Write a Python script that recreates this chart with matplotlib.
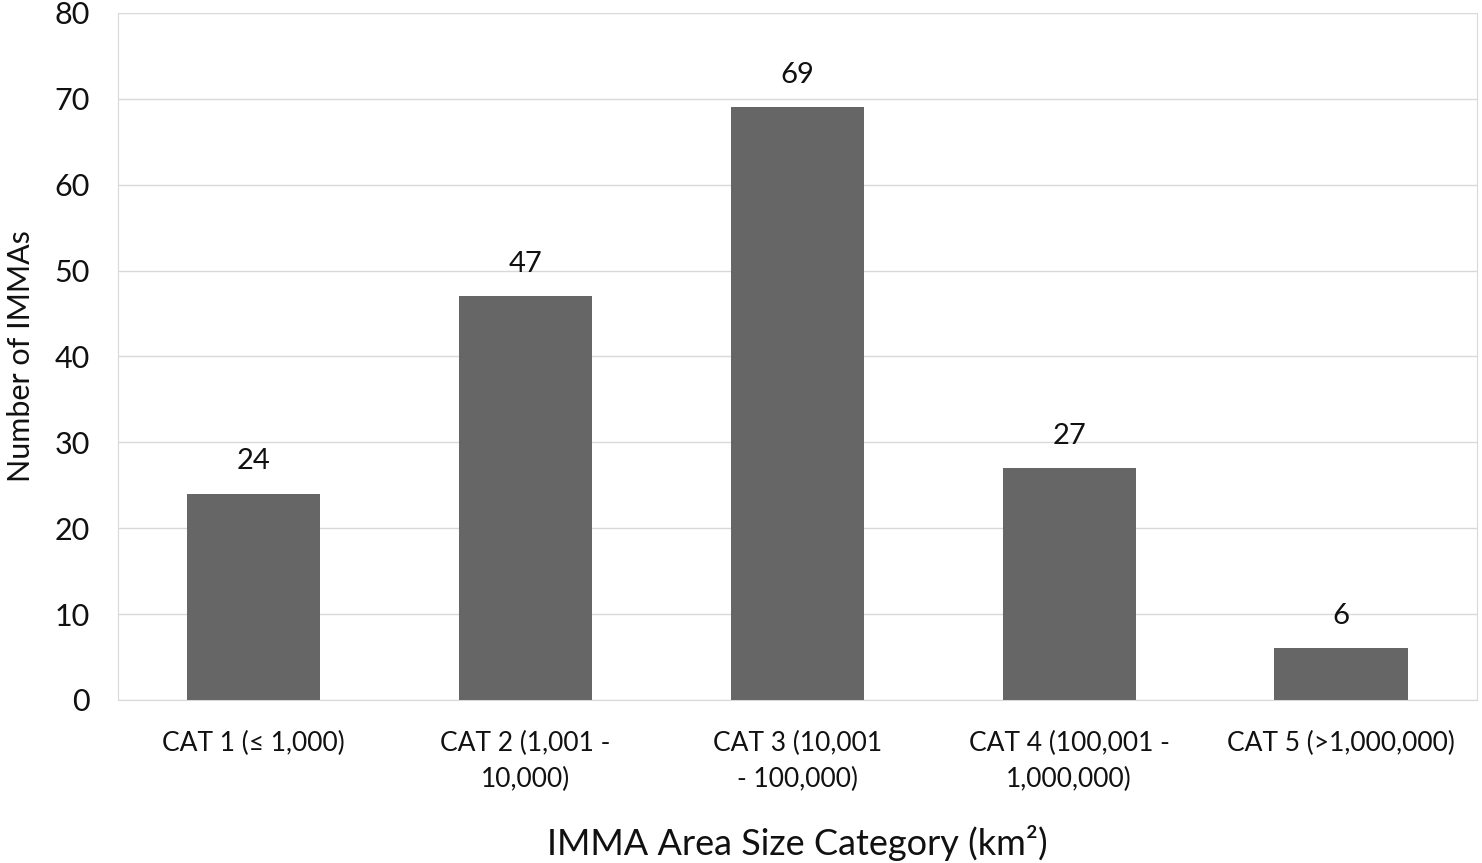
import matplotlib.pyplot as plt

plt.rcParams['font.family'] = ['Lato', 'DejaVu Sans']

# dados
categorias = ["CAT 1 (\u2264 1,000)", "CAT 2 (1,001 -\n10,000)", "CAT 3 (10,001\n- 100,000)",
              "CAT 4 (100,001 -\n1,000,000)", "CAT 5 (>1,000,000)"]
valores = [24, 47, 69, 27, 6]
y_ticks = [0, 10, 20, 30, 40, 50, 60, 70, 80]

fig = plt.figure(figsize=(14.82, 8.63), dpi=100)
ax = fig.add_axes([0.0796, 0.1889, 0.9170, 0.7961])

x = list(range(len(categorias)))
ax.bar(x, valores, width=0.49, color="#666666", zorder=3)

# rotulos dos valores
for xi, v in zip(x, valores):
    ax.annotate(str(v), (xi, v), xytext=(0, 14), textcoords="offset points",
                ha="center", va="bottom", fontsize=21, color="#111111")

ax.set_xlim(-0.5, len(categorias) - 0.5)
ax.set_ylim(0, 80)
ax.set_yticks(y_ticks)
ax.set_xticks(x)
ax.set_xticklabels(categorias, fontsize=19, color="#111111", linespacing=1.55)
ax.tick_params(axis="y", labelsize=22, length=0, pad=20, colors="#111111")
ax.tick_params(axis="x", length=0, pad=22)
ax.grid(axis="y", color="#d9d9d9", linewidth=1, zorder=0)

for s in ["left", "right", "bottom", "top"]:
    ax.spines[s].set_color("#d9d9d9")
ax.spines["top"].set_visible(False)

ax.set_xlabel("IMMA Area Size Category (km\u00b2)", fontsize=26, labelpad=24, color="#111111")
ax.set_ylabel("Number of IMMAs", fontsize=22, labelpad=14, color="#111111")

fig.savefig("out.png", dpi=100)
